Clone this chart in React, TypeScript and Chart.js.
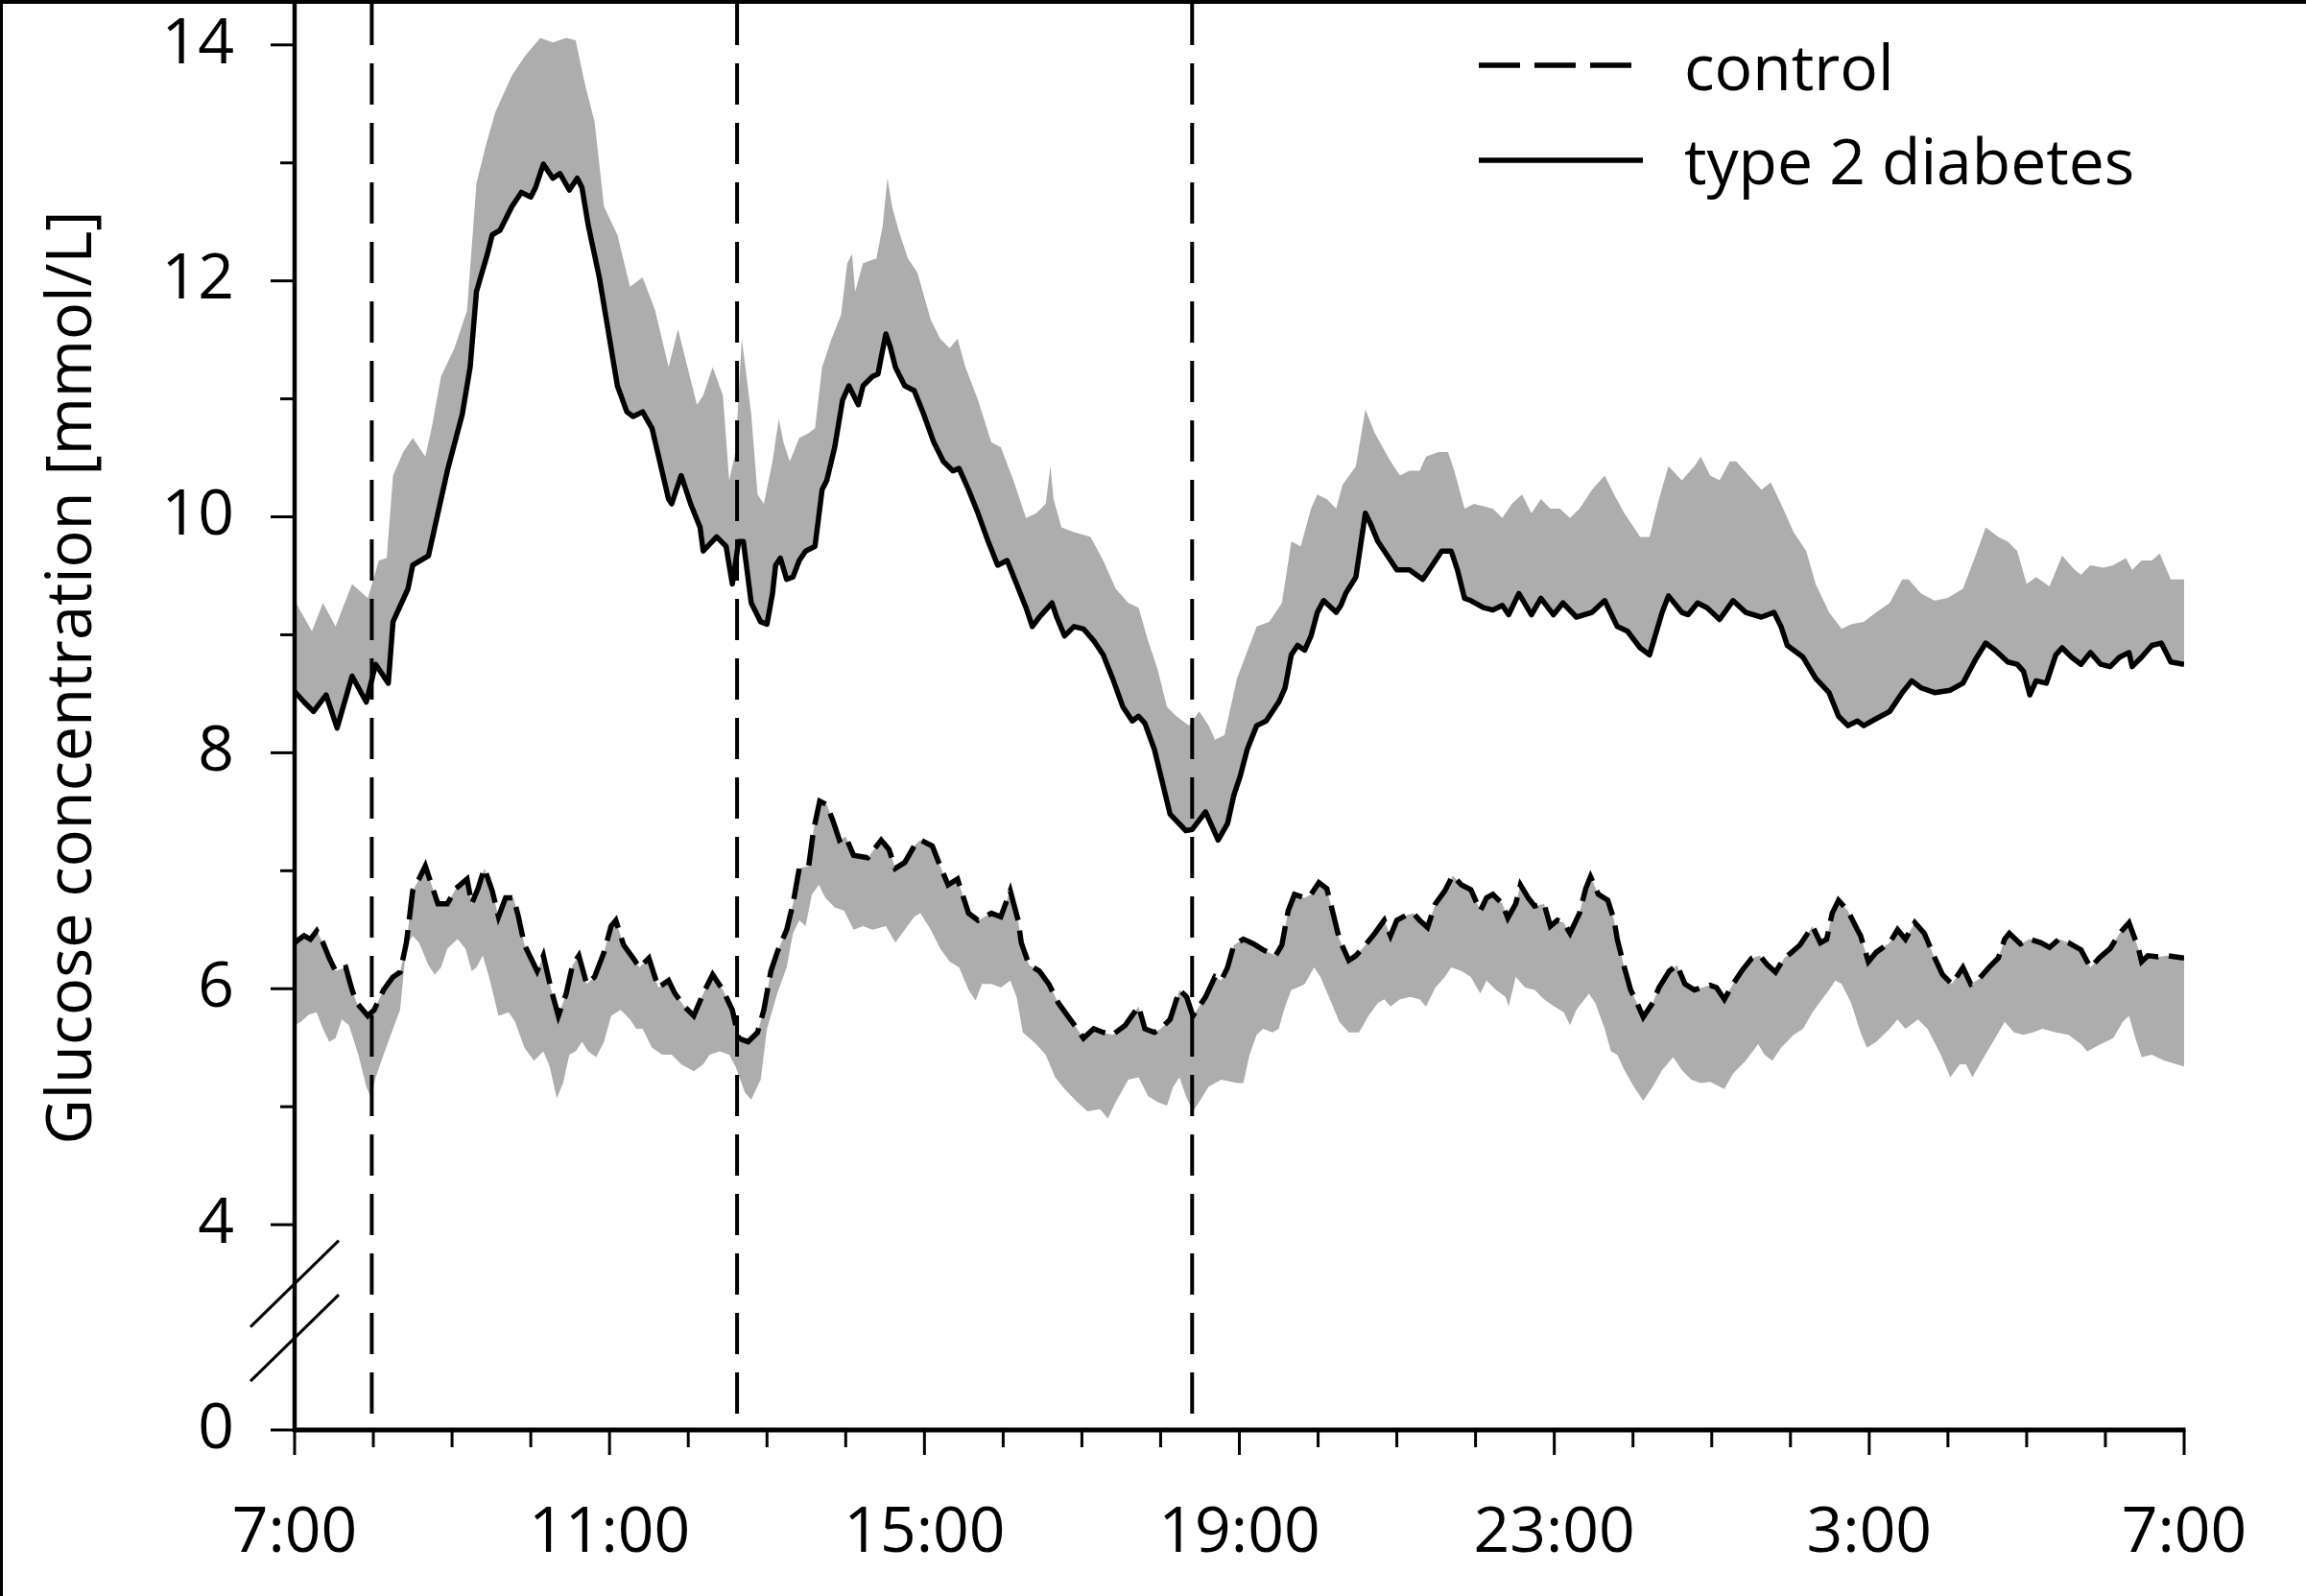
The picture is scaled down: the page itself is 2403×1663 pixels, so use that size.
import React, { useEffect, useRef } from "react";
import { Chart, registerables } from "chart.js";

Chart.register(...registerables);

// ---------- axis / label data ----------
const timeTickHours = [0, 4, 8, 12, 16, 20, 24]; // hours after 7:00
const timeLabels = ["7:00", "11:00", "15:00", "19:00", "23:00", "3:00", "7:00"];
const yTickValues = [4, 6, 8, 10, 12, 14];
const yMinorValues = [5, 7, 9, 11, 13];
const yBreakBase = 2.26; // where "0" sits below the axis break
const yBreakMarks = [3.5, 3.04];
const mealHours = [0.98, 5.62, 11.4]; // vertical dashed lines
const yTitle = "Glucose concentration [mmol/L]";
const legendLabels = ["control", "type 2 diabetes"];

// ---------- series: [hours after 7:00, mmol/L] ----------
const t2dMean: [number, number][] = [
  [0, 8.52], [0.12, 8.43], [0.24, 8.35], [0.4, 8.49], [0.54, 8.21], [0.73, 8.65], [0.91, 8.43], [1.03, 8.75], [1.19, 8.59], [1.25, 9.11],
  [1.44, 9.39], [1.5, 9.59], [1.7, 9.67], [1.78, 9.91], [1.94, 10.39], [2.13, 10.87], [2.23, 11.27], [2.31, 11.91], [2.45, 12.23], [2.51, 12.39],
  [2.61, 12.43], [2.76, 12.63], [2.88, 12.75], [3.0, 12.71], [3.06, 12.79], [3.16, 12.99], [3.28, 12.87], [3.37, 12.91], [3.49, 12.77], [3.59, 12.87],
  [3.65, 12.79], [3.73, 12.47], [3.87, 12.03], [3.97, 11.63], [4.1, 11.11], [4.22, 10.89], [4.3, 10.85], [4.42, 10.89], [4.54, 10.75], [4.75, 10.15],
  [4.79, 10.11], [4.91, 10.35], [5.03, 10.11], [5.15, 9.91], [5.19, 9.71], [5.36, 9.83], [5.48, 9.75], [5.56, 9.43], [5.64, 9.79], [5.7, 9.79],
  [5.8, 9.27], [5.92, 9.11], [6.0, 9.09], [6.07, 9.35], [6.11, 9.59], [6.17, 9.65], [6.25, 9.47], [6.33, 9.49], [6.41, 9.63], [6.49, 9.71],
  [6.61, 9.75], [6.7, 10.23], [6.76, 10.31], [6.86, 10.59], [6.96, 10.99], [7.04, 11.11], [7.1, 11.03], [7.16, 10.95], [7.22, 11.11], [7.34, 11.19],
  [7.41, 11.21], [7.45, 11.35], [7.51, 11.55], [7.57, 11.43], [7.63, 11.27], [7.75, 11.11], [7.87, 11.07], [7.99, 10.87], [8.12, 10.63], [8.24, 10.47],
  [8.36, 10.39], [8.44, 10.41], [8.56, 10.23], [8.68, 10.03], [8.81, 9.79], [8.93, 9.59], [9.05, 9.63], [9.17, 9.43], [9.29, 9.23], [9.37, 9.07],
  [9.46, 9.15], [9.54, 9.21], [9.62, 9.27], [9.68, 9.15], [9.78, 8.99], [9.9, 9.07], [10.02, 9.05], [10.15, 8.95], [10.27, 8.83], [10.39, 8.63],
  [10.52, 8.39], [10.64, 8.27], [10.72, 8.31], [10.8, 8.25], [10.92, 8.03], [11.12, 7.48], [11.32, 7.34], [11.4, 7.35], [11.57, 7.5], [11.73, 7.26],
  [11.85, 7.4], [11.93, 7.64], [12.01, 7.8], [12.1, 8.03], [12.22, 8.23], [12.34, 8.27], [12.5, 8.43], [12.58, 8.55], [12.66, 8.83], [12.74, 8.91],
  [12.83, 8.87], [12.91, 8.99], [12.99, 9.19], [13.07, 9.29], [13.23, 9.19], [13.29, 9.25], [13.35, 9.35], [13.48, 9.49], [13.52, 9.67], [13.6, 10.03],
  [13.66, 9.95], [13.76, 9.79], [13.88, 9.67], [14.0, 9.55], [14.16, 9.55], [14.33, 9.47], [14.45, 9.59], [14.57, 9.71], [14.69, 9.71], [14.77, 9.55],
  [14.86, 9.31], [14.94, 9.29], [15.1, 9.23], [15.22, 9.21], [15.34, 9.25], [15.42, 9.17], [15.55, 9.35], [15.71, 9.17], [15.83, 9.31], [15.99, 9.17],
  [16.11, 9.27], [16.28, 9.15], [16.48, 9.19], [16.64, 9.29], [16.8, 9.07], [16.93, 9.03], [17.09, 8.89], [17.21, 8.83], [17.37, 9.19], [17.45, 9.33],
  [17.62, 9.19], [17.7, 9.17], [17.82, 9.27], [17.94, 9.23], [18.1, 9.13], [18.27, 9.29], [18.43, 9.19], [18.63, 9.15], [18.79, 9.19], [18.88, 9.07],
  [18.96, 8.91], [19.16, 8.81], [19.32, 8.63], [19.49, 8.51], [19.61, 8.31], [19.73, 8.23], [19.85, 8.27], [19.93, 8.23], [20.09, 8.29], [20.26, 8.35],
  [20.42, 8.51], [20.54, 8.61], [20.66, 8.55], [20.83, 8.51], [21.03, 8.53], [21.19, 8.59], [21.35, 8.79], [21.48, 8.93], [21.6, 8.87], [21.76, 8.77],
  [21.88, 8.75], [21.96, 8.69], [22.04, 8.49], [22.12, 8.61], [22.25, 8.59], [22.37, 8.83], [22.45, 8.89], [22.57, 8.81], [22.69, 8.75], [22.81, 8.85],
  [22.94, 8.75], [23.06, 8.73], [23.18, 8.81], [23.3, 8.85], [23.34, 8.73], [23.46, 8.81], [23.59, 8.91], [23.71, 8.93], [23.83, 8.77], [24.0, 8.75],
];

const t2dUpper: [number, number][] = [
  [0, 9.29], [0.22, 9.03], [0.36, 9.27], [0.52, 9.07], [0.73, 9.43], [0.93, 9.31], [1.07, 9.63], [1.17, 9.65], [1.25, 10.35], [1.38, 10.55],
  [1.5, 10.67], [1.66, 10.51], [1.74, 10.75], [1.86, 11.19], [2.03, 11.43], [2.19, 11.75], [2.31, 12.83], [2.43, 13.15], [2.55, 13.43], [2.76, 13.74],
  [2.92, 13.9], [3.12, 14.06], [3.28, 14.02], [3.45, 14.06], [3.57, 14.04], [3.69, 13.66], [3.81, 13.35], [3.93, 12.63], [4.1, 12.39], [4.26, 11.95],
  [4.42, 12.03], [4.58, 11.75], [4.75, 11.27], [4.87, 11.59], [4.99, 11.27], [5.11, 10.95], [5.19, 11.03], [5.31, 11.27], [5.44, 11.03], [5.52, 10.31],
  [5.6, 10.55], [5.68, 11.51], [5.8, 10.87], [5.88, 10.19], [5.96, 10.11], [6.07, 10.47], [6.15, 10.83], [6.21, 10.63], [6.29, 10.47], [6.41, 10.67],
  [6.53, 10.71], [6.61, 10.75], [6.7, 11.27], [6.82, 11.51], [6.94, 11.71], [7.02, 12.15], [7.08, 12.23], [7.12, 11.91], [7.22, 12.15], [7.39, 12.19],
  [7.47, 12.47], [7.53, 12.87], [7.59, 12.63], [7.67, 12.43], [7.79, 12.19], [7.91, 12.07], [8.08, 11.67], [8.2, 11.51], [8.32, 11.43], [8.42, 11.51],
  [8.52, 11.27], [8.68, 10.99], [8.85, 10.63], [8.97, 10.59], [9.13, 10.31], [9.29, 9.99], [9.42, 10.03], [9.54, 10.11], [9.6, 10.43], [9.64, 10.15],
  [9.74, 9.91], [9.9, 9.87], [10.11, 9.83], [10.27, 9.63], [10.43, 9.39], [10.59, 9.27], [10.72, 9.23], [10.84, 8.95], [10.96, 8.71], [11.08, 8.39],
  [11.2, 8.31], [11.36, 8.23], [11.49, 8.35], [11.61, 8.23], [11.69, 8.11], [11.81, 8.15], [11.97, 8.63], [12.22, 9.07], [12.38, 9.11], [12.54, 9.27],
  [12.66, 9.79], [12.78, 9.75], [12.91, 10.07], [12.99, 10.19], [13.11, 10.15], [13.23, 10.07], [13.31, 10.27], [13.48, 10.43], [13.6, 10.91], [13.72, 10.71],
  [13.92, 10.47], [14.04, 10.35], [14.16, 10.39], [14.29, 10.39], [14.37, 10.51], [14.53, 10.55], [14.65, 10.55], [14.73, 10.39], [14.86, 10.07], [14.98, 10.11],
  [15.22, 10.07], [15.34, 9.99], [15.46, 10.11], [15.59, 10.19], [15.71, 10.03], [15.83, 10.15], [15.95, 10.07], [16.07, 10.07], [16.2, 9.99], [16.32, 10.07],
  [16.48, 10.23], [16.64, 10.35], [16.76, 10.19], [16.89, 10.03], [17.01, 9.91], [17.09, 9.83], [17.21, 9.83], [17.33, 10.15], [17.45, 10.43], [17.62, 10.31],
  [17.78, 10.43], [17.86, 10.51], [17.98, 10.35], [18.1, 10.31], [18.23, 10.47], [18.31, 10.47], [18.47, 10.35], [18.63, 10.23], [18.75, 10.29], [18.88, 10.11],
  [19.04, 9.87], [19.2, 9.71], [19.32, 9.43], [19.49, 9.19], [19.65, 9.05], [19.77, 9.09], [19.93, 9.11], [20.09, 9.19], [20.26, 9.27], [20.42, 9.47],
  [20.5, 9.47], [20.66, 9.35], [20.83, 9.29], [20.99, 9.31], [21.19, 9.39], [21.35, 9.67], [21.48, 9.91], [21.64, 9.83], [21.76, 9.79], [21.88, 9.71],
  [22.0, 9.43], [22.12, 9.49], [22.29, 9.41], [22.45, 9.67], [22.61, 9.55], [22.69, 9.51], [22.81, 9.59], [22.98, 9.57], [23.1, 9.59], [23.26, 9.65],
  [23.34, 9.55], [23.46, 9.63], [23.59, 9.63], [23.69, 9.69], [23.83, 9.47], [24.0, 9.47],
];

const ctrlMean: [number, number][] = [
  [0, 6.39], [0.12, 6.45], [0.2, 6.42], [0.28, 6.49], [0.36, 6.39], [0.44, 6.26], [0.52, 6.15], [0.65, 6.18], [0.73, 5.99], [0.79, 5.88],
  [0.93, 5.77], [1.01, 5.82], [1.13, 5.99], [1.25, 6.1], [1.34, 6.14], [1.42, 6.39], [1.5, 6.83], [1.58, 6.93], [1.66, 7.04], [1.74, 6.88],
  [1.82, 6.72], [1.94, 6.72], [2.05, 6.85], [2.19, 6.93], [2.25, 6.72], [2.33, 6.85], [2.41, 7.02], [2.51, 6.83], [2.59, 6.61], [2.68, 6.77],
  [2.78, 6.77], [2.84, 6.62], [2.92, 6.37], [3.08, 6.15], [3.16, 6.28], [3.26, 5.99], [3.35, 5.77], [3.45, 5.96], [3.53, 6.2], [3.61, 6.28],
  [3.71, 6.04], [3.81, 6.1], [3.93, 6.31], [4.02, 6.53], [4.08, 6.58], [4.14, 6.45], [4.18, 6.37], [4.3, 6.26], [4.38, 6.18], [4.5, 6.26],
  [4.62, 6.01], [4.75, 6.07], [4.83, 5.96], [4.95, 5.85], [5.07, 5.77], [5.19, 5.96], [5.31, 6.12], [5.44, 5.99], [5.56, 5.82], [5.64, 5.58],
  [5.76, 5.55], [5.88, 5.63], [5.96, 5.82], [6.05, 6.15], [6.13, 6.31], [6.25, 6.5], [6.33, 6.72], [6.41, 7.02], [6.53, 7.04], [6.59, 7.34],
  [6.67, 7.59], [6.76, 7.56], [6.84, 7.42], [6.92, 7.26], [7.0, 7.29], [7.1, 7.13], [7.28, 7.11], [7.45, 7.26], [7.55, 7.18], [7.63, 7.02],
  [7.75, 7.07], [7.87, 7.21], [7.95, 7.26], [8.1, 7.21], [8.2, 7.04], [8.3, 6.88], [8.42, 6.93], [8.56, 6.64], [8.68, 6.58], [8.85, 6.64],
  [8.97, 6.61], [9.09, 6.83], [9.19, 6.58], [9.23, 6.39], [9.33, 6.2], [9.46, 6.15], [9.58, 6.04], [9.7, 5.88], [9.82, 5.77], [9.94, 5.66],
  [10.02, 5.58], [10.15, 5.66], [10.27, 5.63], [10.39, 5.61], [10.55, 5.69], [10.72, 5.85], [10.8, 5.66], [10.92, 5.63], [11.0, 5.66], [11.12, 5.74],
  [11.24, 5.99], [11.33, 5.93], [11.41, 5.77], [11.49, 5.85], [11.57, 5.93], [11.69, 6.1], [11.77, 6.07], [11.85, 6.18], [11.93, 6.37], [12.05, 6.42],
  [12.18, 6.38], [12.3, 6.33], [12.46, 6.28], [12.54, 6.37], [12.62, 6.66], [12.7, 6.8], [12.83, 6.77], [12.91, 6.8], [13.01, 6.9], [13.11, 6.85],
  [13.19, 6.64], [13.27, 6.42], [13.39, 6.24], [13.48, 6.28], [13.6, 6.37], [13.72, 6.47], [13.84, 6.58], [13.92, 6.45], [14.0, 6.58], [14.11, 6.62],
  [14.21, 6.64], [14.29, 6.58], [14.39, 6.52], [14.49, 6.72], [14.61, 6.83], [14.71, 6.96], [14.82, 6.88], [14.94, 6.84], [15.06, 6.66], [15.14, 6.77],
  [15.22, 6.8], [15.34, 6.72], [15.41, 6.6], [15.51, 6.72], [15.57, 6.88], [15.67, 6.77], [15.75, 6.7], [15.87, 6.72], [15.95, 6.53], [16.04, 6.58],
  [16.12, 6.56], [16.2, 6.47], [16.32, 6.64], [16.4, 6.85], [16.46, 6.95], [16.56, 6.8], [16.68, 6.75], [16.76, 6.58], [16.8, 6.42], [16.89, 6.18],
  [16.97, 5.99], [17.05, 5.88], [17.13, 5.76], [17.25, 5.88], [17.33, 6.01], [17.46, 6.15], [17.56, 6.2], [17.66, 6.04], [17.78, 5.99], [17.98, 6.03],
  [18.06, 6.01], [18.16, 5.91], [18.27, 6.04], [18.39, 6.16], [18.51, 6.26], [18.61, 6.28], [18.71, 6.2], [18.81, 6.14], [18.92, 6.26], [19.0, 6.3],
  [19.12, 6.37], [19.28, 6.53], [19.38, 6.39], [19.46, 6.42], [19.53, 6.64], [19.61, 6.75], [19.73, 6.66], [19.85, 6.5], [19.89, 6.45], [19.99, 6.23],
  [20.09, 6.31], [20.26, 6.39], [20.36, 6.5], [20.46, 6.42], [20.58, 6.56], [20.7, 6.47], [20.82, 6.28], [20.93, 6.12], [21.05, 6.04], [21.19, 6.18],
  [21.29, 6.04], [21.39, 6.08], [21.52, 6.18], [21.64, 6.26], [21.72, 6.42], [21.78, 6.47], [21.92, 6.38], [22.04, 6.42], [22.18, 6.39], [22.29, 6.35],
  [22.41, 6.42], [22.53, 6.39], [22.69, 6.33], [22.81, 6.18], [22.92, 6.26], [23.06, 6.34], [23.18, 6.47], [23.3, 6.56], [23.42, 6.34], [23.46, 6.23],
  [23.54, 6.28], [23.67, 6.27], [23.79, 6.28], [24.0, 6.26],
];

const ctrlLower: [number, number][] = [
  [0, 5.69], [0.08, 5.72], [0.18, 5.78], [0.28, 5.8], [0.36, 5.66], [0.44, 5.55], [0.52, 5.58], [0.6, 5.74], [0.69, 5.69], [0.81, 5.44],
  [0.91, 5.17], [0.97, 5.08], [1.03, 5.25], [1.13, 5.44], [1.25, 5.66], [1.34, 5.82], [1.42, 6.37], [1.5, 6.45], [1.58, 6.39], [1.7, 6.2],
  [1.78, 6.12], [1.86, 6.18], [1.94, 6.34], [2.07, 6.42], [2.17, 6.34], [2.25, 6.15], [2.31, 6.18], [2.39, 6.28], [2.47, 6.1], [2.59, 5.77],
  [2.72, 5.8], [2.8, 5.72], [2.92, 5.5], [3.04, 5.39], [3.16, 5.47], [3.24, 5.34], [3.33, 5.07], [3.41, 5.2], [3.49, 5.44], [3.57, 5.47],
  [3.65, 5.55], [3.73, 5.47], [3.83, 5.42], [3.93, 5.55], [4.02, 5.77], [4.14, 5.82], [4.26, 5.74], [4.34, 5.66], [4.42, 5.66], [4.54, 5.5],
  [4.67, 5.44], [4.79, 5.44], [4.91, 5.36], [5.07, 5.3], [5.19, 5.36], [5.27, 5.44], [5.4, 5.47], [5.52, 5.44], [5.6, 5.34], [5.72, 5.12],
  [5.8, 5.06], [5.92, 5.23], [6.0, 5.66], [6.13, 5.96], [6.25, 6.18], [6.33, 6.47], [6.41, 6.58], [6.49, 6.53], [6.57, 6.8], [6.66, 6.88],
  [6.74, 6.77], [6.86, 6.69], [6.98, 6.66], [7.1, 6.5], [7.22, 6.53], [7.34, 6.5], [7.51, 6.53], [7.63, 6.39], [7.75, 6.5], [7.87, 6.61],
  [7.95, 6.64], [8.08, 6.5], [8.2, 6.34], [8.32, 6.23], [8.44, 6.18], [8.56, 5.99], [8.65, 5.9], [8.73, 6.04], [8.85, 6.04], [8.97, 6.01],
  [9.09, 6.07], [9.17, 5.93], [9.25, 5.63], [9.42, 5.53], [9.54, 5.44], [9.66, 5.25], [9.78, 5.15], [9.94, 5.04], [10.07, 4.96], [10.23, 4.98],
  [10.33, 4.9], [10.43, 5.04], [10.59, 5.23], [10.72, 5.25], [10.84, 5.09], [10.96, 5.04], [11.08, 5.01], [11.16, 5.17], [11.24, 5.25], [11.32, 5.09],
  [11.41, 4.96], [11.49, 5.04], [11.61, 5.17], [11.77, 5.23], [11.97, 5.2], [12.05, 5.2], [12.13, 5.44], [12.22, 5.61], [12.3, 5.66], [12.42, 5.63],
  [12.5, 5.66], [12.58, 5.85], [12.66, 5.99], [12.74, 6.01], [12.83, 6.04], [12.95, 6.18], [13.03, 6.1], [13.15, 5.91], [13.27, 5.72], [13.39, 5.63],
  [13.52, 5.63], [13.64, 5.77], [13.76, 5.88], [13.84, 5.91], [13.92, 5.85], [14.04, 5.91], [14.17, 5.93], [14.29, 5.91], [14.37, 5.85], [14.49, 6.01],
  [14.61, 6.1], [14.69, 6.18], [14.82, 6.15], [14.94, 6.1], [15.06, 5.96], [15.14, 6.07], [15.26, 5.99], [15.38, 5.93], [15.42, 5.85], [15.51, 6.1],
  [15.63, 6.01], [15.75, 5.99], [15.87, 5.91], [16.0, 5.85], [16.12, 5.8], [16.2, 5.69], [16.28, 5.82], [16.44, 5.96], [16.52, 5.88], [16.64, 5.66],
  [16.72, 5.47], [16.8, 5.44], [16.89, 5.31], [17.01, 5.17], [17.13, 5.05], [17.25, 5.17], [17.37, 5.31], [17.51, 5.42], [17.62, 5.31], [17.74, 5.23],
  [17.86, 5.2], [17.98, 5.21], [18.16, 5.15], [18.27, 5.28], [18.43, 5.39], [18.59, 5.53], [18.67, 5.44], [18.77, 5.39], [18.88, 5.5], [19.04, 5.61],
  [19.16, 5.66], [19.28, 5.8], [19.4, 5.91], [19.49, 5.99], [19.57, 6.07], [19.65, 6.04], [19.77, 5.88], [19.89, 5.63], [19.97, 5.5], [20.09, 5.55],
  [20.26, 5.66], [20.36, 5.74], [20.46, 5.66], [20.62, 5.74], [20.74, 5.66], [20.91, 5.44], [21.03, 5.25], [21.15, 5.36], [21.23, 5.36], [21.31, 5.25],
  [21.43, 5.39], [21.6, 5.58], [21.72, 5.72], [21.84, 5.63], [21.96, 5.61], [22.08, 5.63], [22.2, 5.66], [22.37, 5.63], [22.53, 5.61], [22.69, 5.53],
  [22.77, 5.47], [22.94, 5.53], [23.1, 5.58], [23.22, 5.72], [23.3, 5.77], [23.38, 5.58], [23.46, 5.42], [23.59, 5.44], [23.75, 5.39], [24.0, 5.34],
];

// ---------- styling ----------
const FONT = "'Open Sans', 'Noto Sans', sans-serif";
const GREY = "#adadad";
const W = 2403;
const H = 1663;

const toPoints = (arr: [number, number][]) => arr.map(([x, y]) => ({ x, y }));

const zeroPad = (s: any) => {
  s.paddingLeft = 0;
  s.paddingRight = 0;
  s.paddingTop = 0;
  s.paddingBottom = 0;
};

const decorPlugin = {
  id: "decor",
  beforeDraw(chart: any) {
    const { ctx, width, height } = chart;
    ctx.save();
    ctx.fillStyle = "#ffffff";
    ctx.fillRect(0, 0, width, height);
    ctx.fillStyle = "#000000";
    ctx.fillRect(0, 0, 3, height);
    ctx.fillRect(0, 0, width, 4);
    ctx.restore();
  },
  afterDatasetsDraw(chart: any) {
    const { ctx, chartArea: a, scales } = chart;
    const x = scales.x;
    const y = scales.y;
    const seg = (x1: number, y1: number, x2: number, y2: number) => {
      ctx.beginPath();
      ctx.moveTo(x1, y1);
      ctx.lineTo(x2, y2);
      ctx.stroke();
    };
    ctx.save();
    ctx.strokeStyle = "#000";
    ctx.lineCap = "butt";

    // meal-time dashed verticals
    ctx.lineWidth = 4;
    ctx.setLineDash([43, 19]);
    mealHours.forEach((h) => {
      const px = x.getPixelForValue(h);
      seg(px, 4, px, a.bottom);
    });
    ctx.setLineDash([]);

    // axis lines
    ctx.lineWidth = 4.5;
    seg(a.left, 0, a.left, a.bottom + 2);
    ctx.lineWidth = 5;
    seg(a.left - 2, a.bottom, a.right + 1.5, a.bottom);

    // y ticks
    ctx.lineWidth = 3;
    [yBreakBase, ...yTickValues].forEach((v) => {
      const py = y.getPixelForValue(v);
      seg(a.left - 25, py, a.left, py);
    });
    yMinorValues.forEach((v) => {
      const py = y.getPixelForValue(v);
      seg(a.left - 15, py, a.left, py);
    });

    // x ticks (every hour, longer at labelled ones)
    for (let h = 0; h <= 24; h++) {
      const px = x.getPixelForValue(h);
      const len = timeTickHours.includes(h) ? 26 : 18;
      seg(px, a.bottom, px, a.bottom + len);
    }

    // axis break marks
    ctx.lineWidth = 3;
    yBreakMarks.forEach((v) => {
      const py = y.getPixelForValue(v);
      seg(a.left - 46, py + 45, a.left + 46, py - 45);
    });

    // legend
    ctx.lineWidth = 5.5;
    ctx.setLineDash([43, 15]);
    seg(1541, 68, 1709, 68);
    ctx.setLineDash([]);
    seg(1541, 167, 1712, 167);
    ctx.fillStyle = "#000";
    ctx.font = `66px ${FONT}`;
    ctx.textAlign = "left";
    ctx.textBaseline = "alphabetic";
    ctx.fillText(legendLabels[0], 1755, 94);
    ctx.fillText(legendLabels[1], 1755, 192);

    // y-axis title
    ctx.save();
    ctx.translate(95, 706);
    ctx.rotate(-Math.PI / 2);
    ctx.textAlign = "center";
    ctx.font = `65px ${FONT}`;
    ctx.fillText(yTitle, 0, 0);
    ctx.restore();

    ctx.restore();
  },
};

export default function App() {
  const ref = useRef<HTMLCanvasElement | null>(null);

  useEffect(() => {
    document.body.style.margin = "0";
    if (!ref.current) return;
    const chart = new Chart(ref.current, {
      type: "line",
      data: {
        datasets: [
          {
            label: "type 2 diabetes upper",
            data: toPoints(t2dUpper),
            borderWidth: 0,
            borderColor: "rgba(0,0,0,0)",
            backgroundColor: GREY,
            fill: 1,
            pointRadius: 0,
            tension: 0,
          },
          {
            label: "type 2 diabetes",
            data: toPoints(t2dMean),
            borderWidth: 5.5,
            borderColor: "#000",
            fill: false,
            pointRadius: 0,
            tension: 0,
            borderJoinStyle: "round",
          },
          {
            label: "control lower",
            data: toPoints(ctrlLower),
            borderWidth: 0,
            borderColor: "rgba(0,0,0,0)",
            backgroundColor: GREY,
            fill: 3,
            pointRadius: 0,
            tension: 0,
          },
          {
            label: "control",
            data: toPoints(ctrlMean),
            borderWidth: 5.5,
            borderColor: "#000",
            borderDash: [32, 11],
            fill: false,
            pointRadius: 0,
            tension: 0,
          },
        ],
      } as any,
      options: {
        responsive: false,
        animation: false,
        devicePixelRatio: 1,
        events: [],
        layout: { padding: { left: 0, top: 5, right: 127, bottom: 0 } },
        plugins: {
          legend: { display: false },
          tooltip: { enabled: false },
          filler: { drawTime: "beforeDatasetsDraw" },
        } as any,
        scales: {
          x: {
            type: "linear",
            min: 0,
            max: 24,
            grid: { display: false, drawTicks: false },
            border: { display: false },
            afterBuildTicks: (s: any) => {
              s.ticks = timeTickHours.map((v) => ({ value: v }));
            },
            afterFit: (s: any) => {
              s.height = 173;
              zeroPad(s);
            },
            ticks: {
              padding: 69,
              color: "#000",
              maxRotation: 0,
              autoSkip: false,
              font: { family: FONT, size: 66 },
              callback: (v: any) => {
                const i = timeTickHours.indexOf(Number(v));
                return i >= 0 ? timeLabels[i] : "";
              },
            },
          },
          y: {
            type: "linear",
            min: yBreakBase,
            max: 14.34,
            grid: { display: false, drawTicks: false },
            border: { display: false },
            afterBuildTicks: (s: any) => {
              s.ticks = [yBreakBase, ...yTickValues].map((v) => ({ value: v }));
            },
            afterFit: (s: any) => {
              s.width = 307;
              zeroPad(s);
            },
            ticks: {
              padding: 63,
              color: "#000",
              autoSkip: false,
              font: { family: FONT, size: 66 },
              callback: (v: any) => (Number(v) < 3 ? "0" : String(v)),
            },
          },
        },
      } as any,
      plugins: [decorPlugin],
    });
    return () => chart.destroy();
  }, []);

  return (
    <div style={{ width: W, height: H, position: "relative" }}>
      <canvas ref={ref} width={W} height={H} style={{ display: "block", width: W, height: H }} />
    </div>
  );
}
